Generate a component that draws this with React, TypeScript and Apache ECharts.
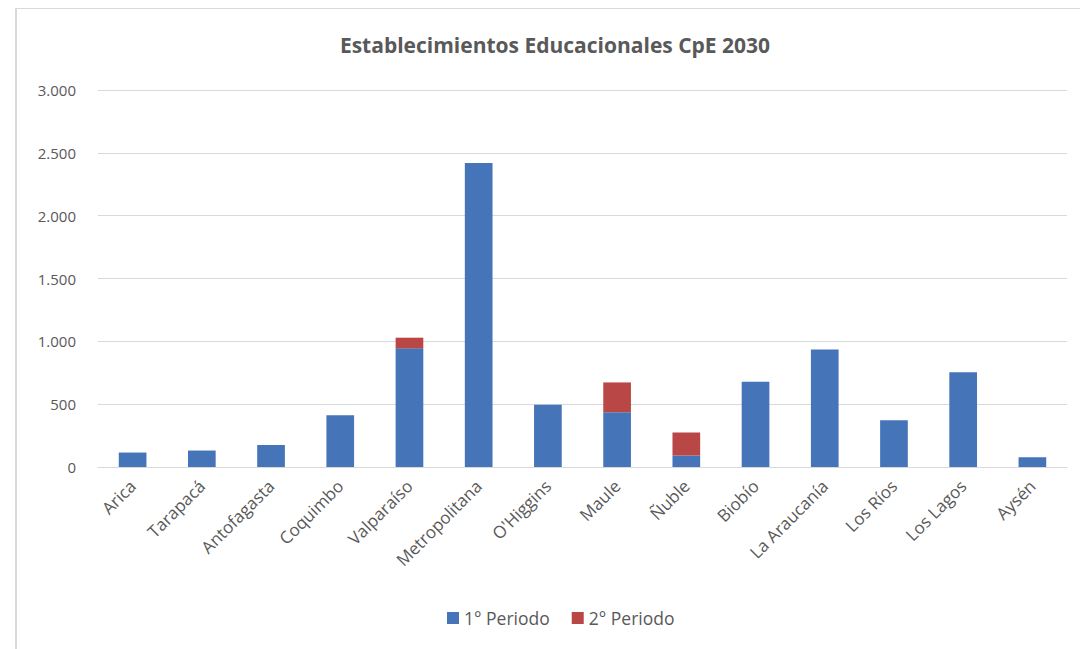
import React, { useEffect, useRef } from "react";
import * as echarts from "echarts";

const titleText = "Establecimientos Educacionales CpE 2030";
const categories = [
  "Arica",
  "Tarapacá",
  "Antofagasta",
  "Coquimbo",
  "Valparaíso",
  "Metropolitana",
  "O'Higgins",
  "Maule",
  "Ñuble",
  "Biobío",
  "La Araucanía",
  "Los Ríos",
  "Los Lagos",
  "Aysén",
];
const periodo1 = [115, 131, 175, 412, 944, 2420, 495, 436, 91, 678, 936, 372, 753, 77];
const periodo2 = [0, 0, 0, 0, 85, 0, 0, 237, 183, 0, 0, 0, 0, 0];
const seriesNames = ["1° Periodo", "2° Periodo"];
const yTicks = { min: 0, max: 3000, interval: 500 };

const fmt = (v: number) => v.toLocaleString("de-DE");

export default function App() {
  const ref = useRef<HTMLDivElement>(null);
  useEffect(() => {
    if (!ref.current) return;
    const chart = echarts.init(ref.current, undefined, { renderer: "svg" });
    const textColor = "#595959";
    const font = "Open Sans";
    chart.setOption({
      animation: false,
      backgroundColor: "#ffffff",
      title: {
        text: titleText,
        left: 550,
        textAlign: "center",
        top: 29,
        textStyle: {
          fontFamily: "Open Sans",
          fontWeight: "bold",
          fontSize: 21,
          color: textColor,
        },
      },
      legend: {
        bottom: 17,
        left: 442,
        itemWidth: 12,
        itemHeight: 12,
        itemGap: 22,
        icon: "rect",
        textStyle: { fontFamily: font, fontSize: 17.5, color: textColor },
        data: seriesNames,
      },
      grid: { left: 98, right: 13, top: 90, bottom: 182 },
      xAxis: {
        type: "category",
        data: categories,
        axisLine: { lineStyle: { color: "#d9d9d9", width: 1 } },
        axisTick: { show: false },
        axisLabel: {
          rotate: 45,
          interval: 0,
          margin: 16,
          fontFamily: font,
          fontSize: 17,
          color: textColor,
        },
      },
      yAxis: {
        type: "value",
        min: yTicks.min,
        max: yTicks.max,
        interval: yTicks.interval,
        axisLine: { show: false },
        axisTick: { show: false },
        splitLine: { lineStyle: { color: "#d9d9d9", width: 1 } },
        axisLabel: {
          margin: 22,
          fontFamily: font,
          fontSize: 15,
          color: textColor,
          formatter: (v: number) => fmt(v),
        },
      },
      series: [
        {
          name: seriesNames[0],
          type: "bar",
          stack: "total",
          data: periodo1,
          barWidth: "40%",
          itemStyle: { color: "#4674b8" },
        },
        {
          name: seriesNames[1],
          type: "bar",
          stack: "total",
          data: periodo2,
          barWidth: "40%",
          itemStyle: { color: "#b94745" },
        },
      ],
      graphic: [
        {
          type: "line",
          shape: { x1: 15, y1: 8.5, x2: 1080, y2: 8.5 },
          style: { stroke: "#d9d9d9", lineWidth: 1 },
        },
        {
          type: "line",
          shape: { x1: 16, y1: 8, x2: 16, y2: 649 },
          style: { stroke: "#d9d9d9", lineWidth: 2 },
        },
      ],
    });
    return () => chart.dispose();
  }, []);
  return (
    <div
      ref={ref}
      style={{ position: "fixed", left: 0, top: 0, width: 1080, height: 649 }}
    />
  );
}
